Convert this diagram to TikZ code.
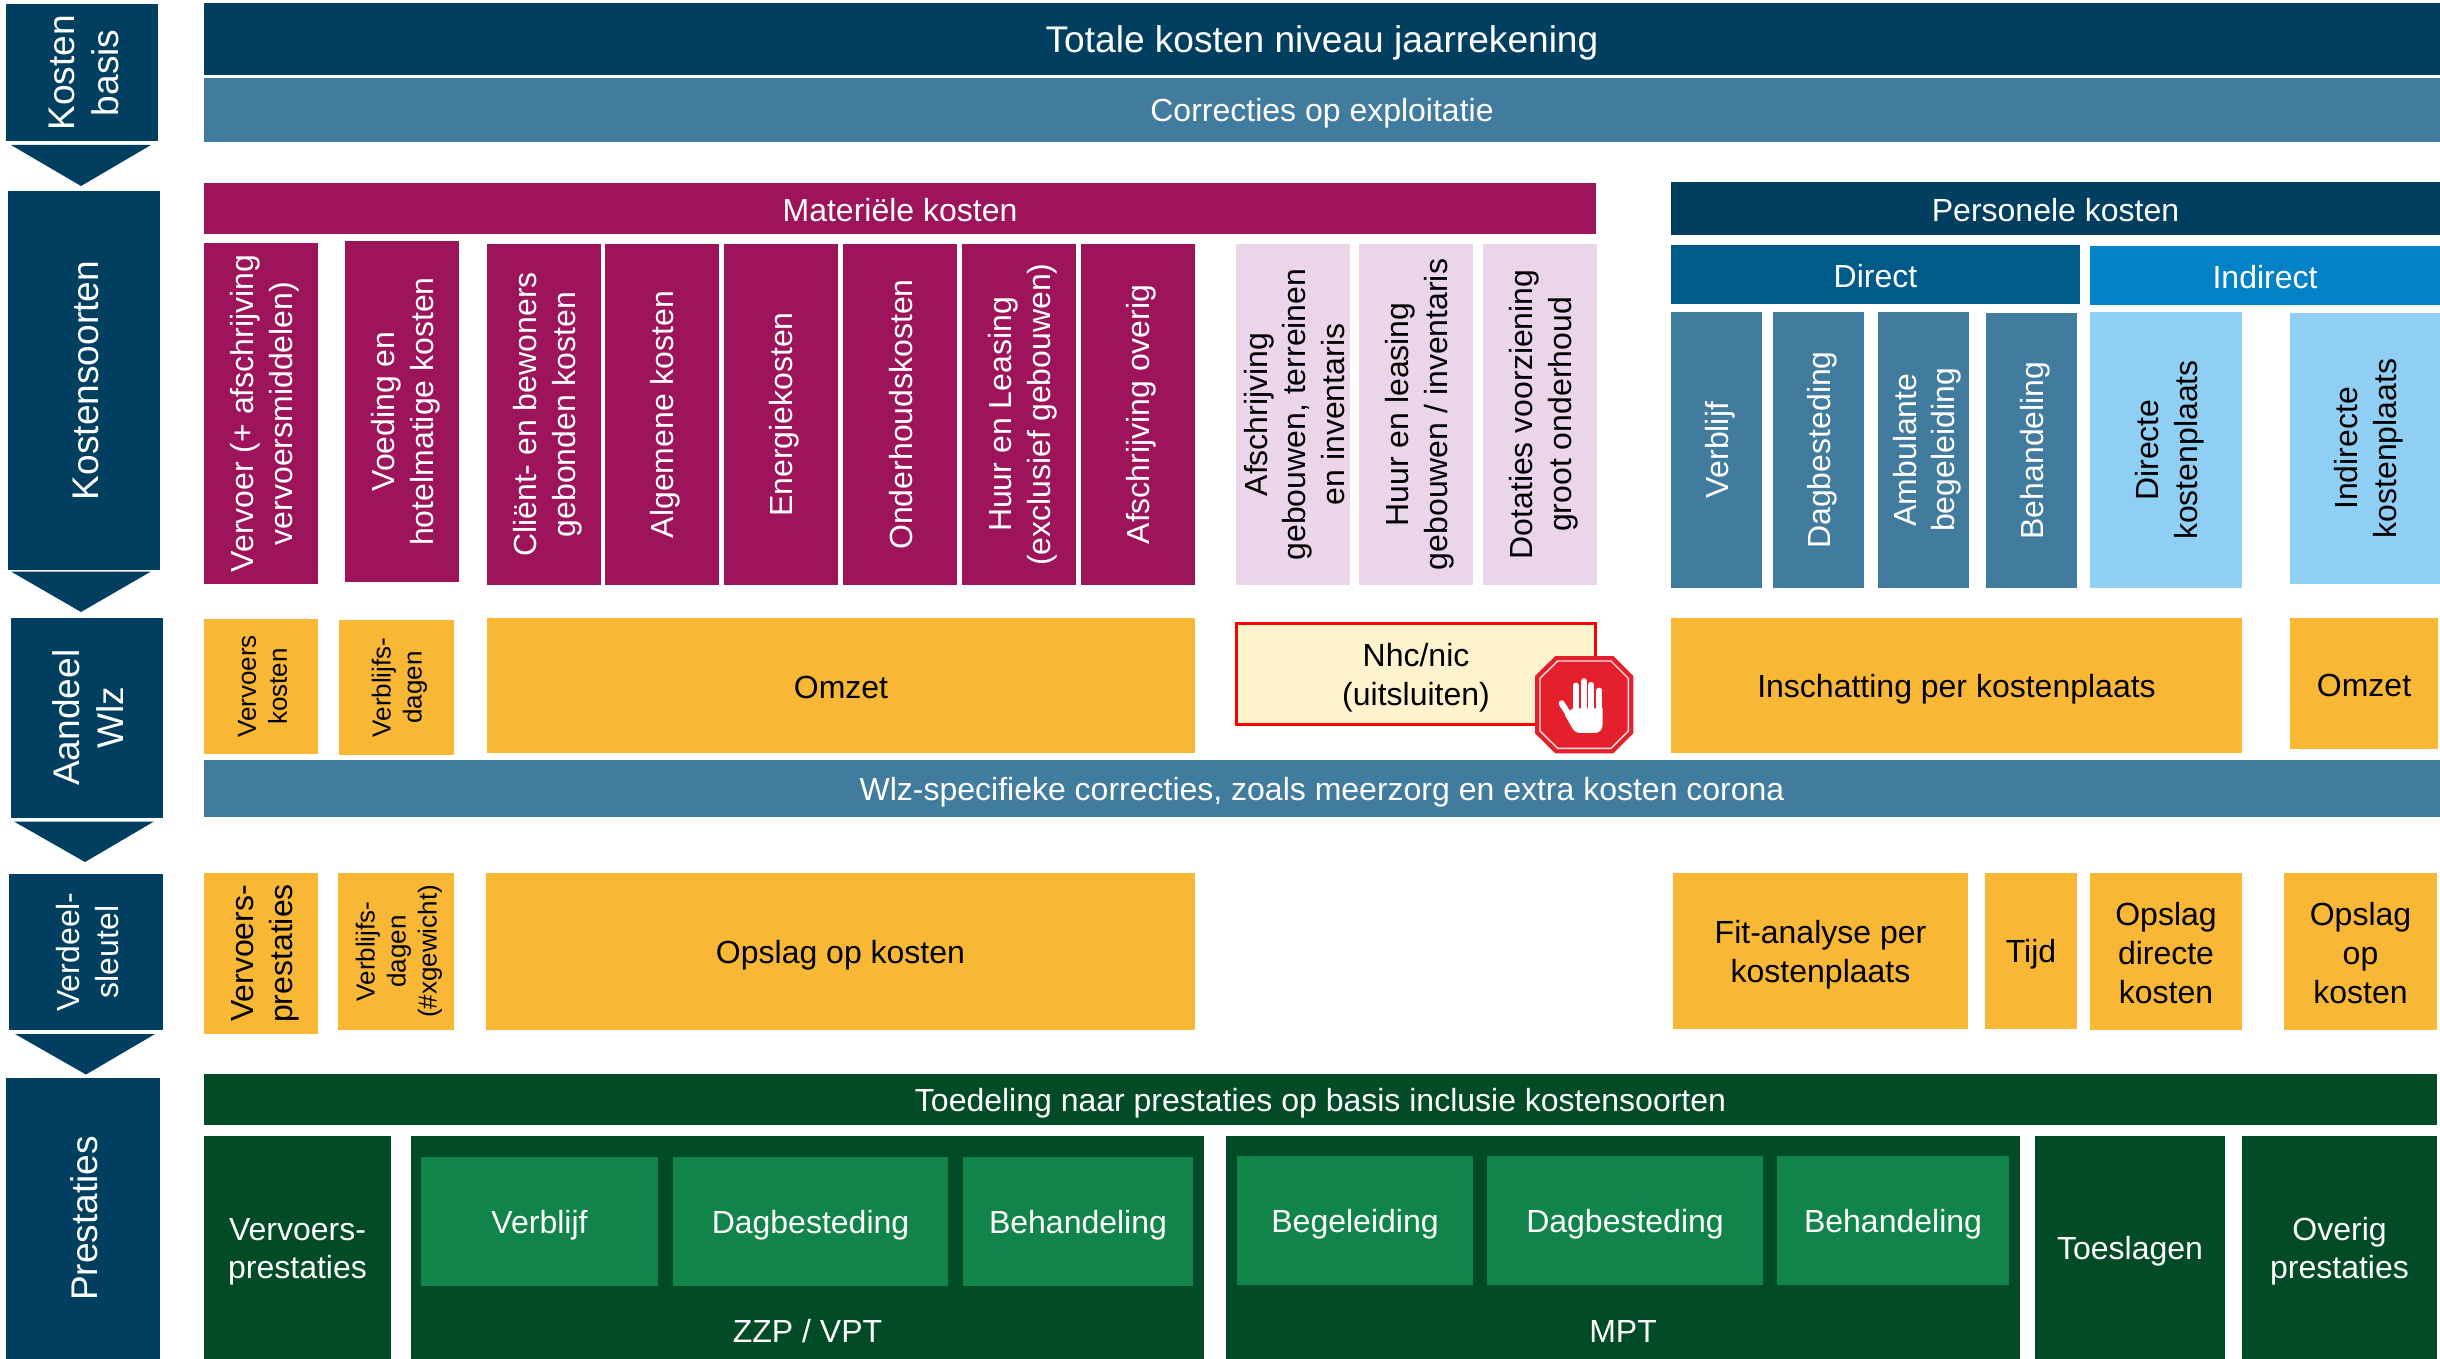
\documentclass[tikz,border=0pt]{standalone}
\usepackage{fontspec}
\setmainfont{Liberation Sans}
\definecolor{cNavy}{HTML}{003F5F}
\definecolor{cSteel}{HTML}{417B9D}
\definecolor{cMag}{HTML}{9D145B}
\definecolor{cPink}{HTML}{EBD5E9}
\definecolor{cOrange}{HTML}{F8B835}
\definecolor{cDark}{HTML}{024B27}
\definecolor{cGreen}{HTML}{118549}
\definecolor{cDirect}{HTML}{005B8B}
\definecolor{cIndirect}{HTML}{0382C8}
\definecolor{cSky}{HTML}{8FCFF3}
\definecolor{cCream}{HTML}{FFF3CD}
\definecolor{cStop}{HTML}{E3202C}
\newcommand\linestrut{\rule[-0.15em]{0pt}{1.1em}}
\tikzset{
  box/.style={inner sep=0pt,outer sep=0pt,align=center},
  large/.style={font=\fontsize{37.1}{44}\selectfont},
  medium/.style={font=\fontsize{32}{38.7}\selectfont},
  small/.style={font=\fontsize{26}{31}\selectfont},
  navybox/.style={box,fill=cNavy,text=white},
  steelbox/.style={box,fill=cSteel,text=white},
  magbox/.style={box,fill=cMag,text=white,medium},
  pinkbox/.style={box,fill=cPink,text=black,medium},
  orangebox/.style={box,fill=cOrange,text=black,medium},
  darkbox/.style={box,fill=cDark,text=white,medium},
  greenbox/.style={box,fill=cGreen,text=white,medium},
  skybox/.style={box,fill=cSky,text=black,medium},
  downarrow/.style={fill=cNavy},
}
% horizontal text box: name,x1,y1,x2,y2,style,text
\newcommand\hbx[7]{%
  \pgfmathsetmacro\bw{#4-#2}\pgfmathsetmacro\bh{#5-#3}%
  \pgfmathsetmacro\cx{(#2+#4)/2}\pgfmathsetmacro\cy{(#3+#5)/2}%
  \node[#6,minimum width=\bw pt,minimum height=\bh pt] (#1) at (\cx,\cy) {\linestrut#7\linestrut};}
% rotated text box
\newcommand\vbx[7]{%
  \pgfmathsetmacro\bw{#4-#2}\pgfmathsetmacro\bh{#5-#3}%
  \pgfmathsetmacro\cx{(#2+#4)/2}\pgfmathsetmacro\cy{(#3+#5)/2}%
  \node[#6,rotate=90,minimum width=\bh pt,minimum height=\bw pt] (#1) at (\cx,\cy) {\linestrut#7\linestrut};}
\begin{document}
\begin{tikzpicture}[x=1pt,y=-1pt]
\useasboundingbox (0,0) rectangle (2440,1359);
% left column
\vbx{kbasis}{6}{4}{158}{141.5}{navybox,large}{Kosten\\basis}
\fill[downarrow] (11,145) -- (151,145) -- (81,186) -- cycle;
\vbx{ksoort}{8}{191}{160}{570}{navybox,large}{Kostensoorten}
\fill[downarrow] (11,571.5) -- (151,571.5) -- (81,612) -- cycle;
\vbx{aandeel}{11}{618}{163}{817.5}{navybox,large}{Aandeel\\Wlz}
\fill[downarrow] (14,821.5) -- (154,821.5) -- (85,862) -- cycle;
\vbx{verdeel}{9}{874}{163}{1030}{navybox,medium}{Verdeel-\\sleutel}
\fill[downarrow] (15,1034) -- (155,1034) -- (86,1074.5) -- cycle;
\vbx{prest}{6}{1078}{160}{1359}{navybox,large}{Prestaties}
% top bars
\hbx{totaal}{204}{3}{2440}{75}{navybox,large}{Totale kosten niveau jaarrekening}
\hbx{corr}{204}{78}{2440}{142}{steelbox,medium}{Correcties op exploitatie}
% materieel
\hbx{mat}{204}{183}{1596}{234}{magbox}{Materiële kosten}
\vbx{m1}{204}{243}{318}{584}{magbox}{Vervoer (+ afschrijving\\vervoersmiddelen)}
\vbx{m2}{345}{241}{459}{582}{magbox}{Voeding en\\hotelmatige kosten}
\vbx{m3}{487}{244}{601}{585}{magbox}{Cliënt- en bewoners\\gebonden kosten}
\vbx{m4}{605}{244}{719}{585}{magbox}{Algemene kosten}
\vbx{m5}{724}{244}{838}{585}{magbox}{Energiekosten}
\vbx{m6}{843}{244}{957}{585}{magbox}{Onderhoudskosten}
\vbx{m7}{962}{244}{1076}{585}{magbox}{Huur en Leasing\\(exclusief gebouwen)}
\vbx{m8}{1081}{244}{1195}{585}{magbox}{Afschrijving overig}
\vbx{p1}{1236}{244}{1350}{585}{pinkbox}{Afschrijving\\gebouwen, terreinen\\en inventaris}
\vbx{p2}{1359}{244}{1473}{585}{pinkbox}{Huur en leasing\\gebouwen / inventaris}
\vbx{p3}{1483}{244}{1597}{585}{pinkbox}{Dotaties voorziening\\groot onderhoud}
% personeel
\hbx{pers}{1671}{182}{2440}{235}{navybox,medium}{Personele kosten}
\hbx{direct}{1671}{245}{2080}{304}{box,fill=cDirect,text=white,medium}{Direct}
\hbx{indirect}{2090}{246}{2440}{305}{box,fill=cIndirect,text=white,medium}{Indirect}
\vbx{d1}{1671}{312}{1762}{588}{steelbox,medium}{Verblijf}
\vbx{d2}{1773}{312}{1864}{588}{steelbox,medium}{Dagbesteding}
\vbx{d3}{1878}{312}{1969}{588}{steelbox,medium}{Ambulante\\begeleiding}
\vbx{d4}{1986}{313}{2077}{588}{steelbox,medium}{Behandeling}
\vbx{d5}{2090}{312}{2242}{588}{skybox}{Directe\\kostenplaats}
\vbx{d6}{2290}{313}{2440}{584}{skybox}{Indirecte\\kostenplaats}
% aandeel row
\vbx{a1}{204}{619}{318}{754}{orangebox,small}{Vervoers\\kosten}
\vbx{a2}{339}{620}{454}{755}{orangebox,small}{Verblijfs-\\dagen}
\hbx{a3}{487}{618}{1195}{753}{orangebox}{Omzet}
\hbx{nhc}{1236.5}{623.5}{1595.5}{724.5}{box,fill=cCream,draw=red,line width=3pt,text=black,medium}{Nhc/nic\\(uitsluiten)}
\hbx{a5}{1671}{618}{2242}{753}{orangebox}{Inschatting per kostenplaats}
\hbx{a6}{2290}{618}{2438}{749}{orangebox}{Omzet}
% stop sign
\begin{scope}[shift={(1530,650)},x=0.3333pt,y=-0.3333pt]
  \fill[cStop] (76,18) -- (250,18) -- (310,78) -- (310,250) -- (250,310) -- (76,310) -- (15,250) -- (15,78) -- cycle;
  \draw[white!88!cStop,line width=1.4pt] (83,33) -- (243,33) -- (295,85) -- (295,243) -- (243,295) -- (83,295) -- (30,243) -- (30,85) -- cycle;
  \fill[white] (128,175) -- (218,175) -- (218,222) .. controls (218,240) and (208,249) .. (192,249) -- (150,249) .. controls (136,249) and (128,238) .. (122,226) -- (105,196) -- (122,180) -- cycle;
  \draw[white,line width=6pt,line cap=round] (95,160) -- (128,213);
  \draw[white,line width=6.2pt,line cap=round] (137,107) -- (137,190);
  \draw[white,line width=6.2pt,line cap=round] (162,94) -- (162,190);
  \draw[white,line width=6.2pt,line cap=round] (184,105) -- (184,190);
  \draw[white,line width=6.2pt,line cap=round] (208,122) -- (208,190);
\end{scope}
% Wlz bar
\hbx{wlz}{204}{760}{2440}{816.5}{steelbox,medium}{Wlz-specifieke correcties, zoals meerzorg en extra kosten corona}
% verdeel row
\vbx{v1}{204}{873}{318}{1034}{orangebox}{Vervoers-\\prestaties}
\vbx{v2}{338}{873}{454}{1030}{orangebox,small}{Verblijfs-\\dagen\\(\#xgewicht)}
\hbx{v3}{486}{873}{1195}{1030}{orangebox}{Opslag op kosten}
\hbx{v4}{1673}{873}{1968}{1029}{orangebox}{Fit-analyse per\\kostenplaats}
\hbx{v5}{1985}{873}{2077}{1029}{orangebox}{Tijd}
\hbx{v6}{2090}{873}{2242}{1030}{orangebox}{Opslag\\directe\\kosten}
\hbx{v7}{2284}{873}{2437}{1030}{orangebox}{Opslag\\op\\kosten}
% prestaties
\hbx{toed}{204}{1074}{2437}{1125}{darkbox}{Toedeling naar prestaties op basis inclusie kostensoorten}
\hbx{vp}{204}{1136}{391}{1359}{darkbox}{Vervoers-\\prestaties}
\hbx{zzp}{411}{1136}{1204}{1359}{box,fill=cDark}{}
\hbx{mpt}{1226}{1136}{2020}{1359}{box,fill=cDark}{}
\hbx{zl}{411}{1310}{1204}{1350}{box,text=white,medium}{ZZP / VPT}
\hbx{ml}{1226}{1310}{2020}{1350}{box,text=white,medium}{MPT}
\hbx{g1}{421}{1157}{658}{1286}{greenbox}{Verblijf}
\hbx{g2}{673}{1157}{948}{1286}{greenbox}{Dagbesteding}
\hbx{g3}{963}{1157}{1193}{1286}{greenbox}{Behandeling}
\hbx{g4}{1237}{1156}{1473}{1285}{greenbox}{Begeleiding}
\hbx{g5}{1487}{1156}{1763}{1285}{greenbox}{Dagbesteding}
\hbx{g6}{1777}{1156}{2009}{1285}{greenbox}{Behandeling}
\hbx{toesl}{2035}{1136}{2225}{1359}{darkbox}{Toeslagen}
\hbx{overig}{2242}{1136}{2437}{1359}{darkbox}{Overig\\prestaties}
\end{tikzpicture}
\end{document}
